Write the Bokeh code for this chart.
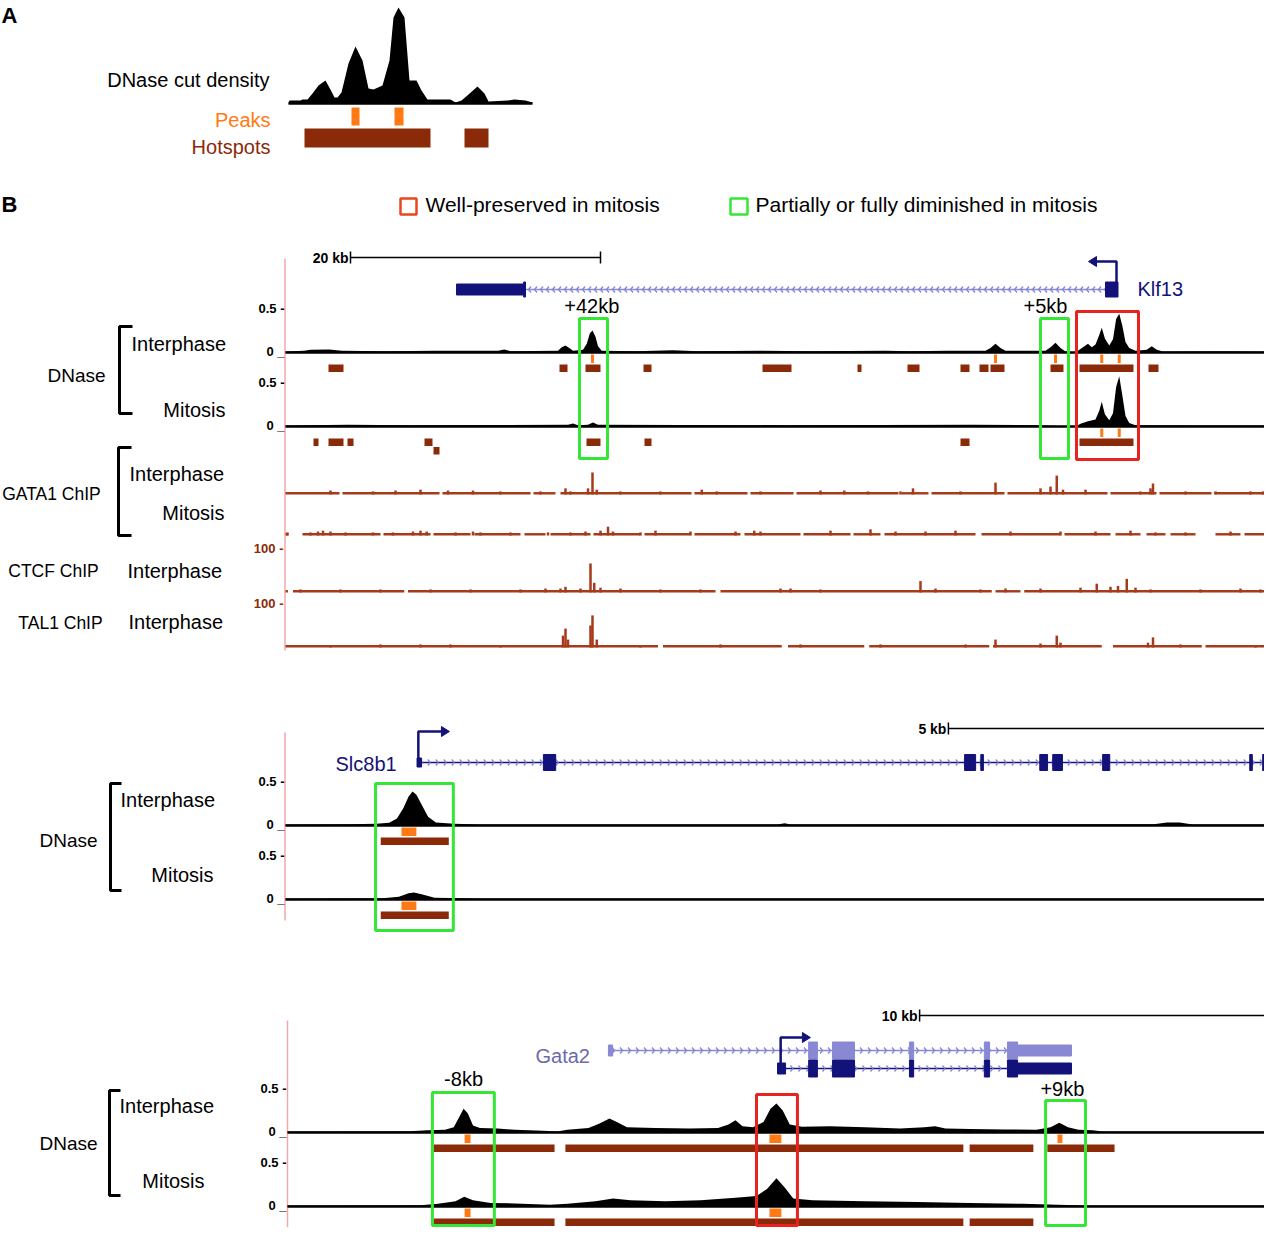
import numpy as np
from bokeh.plotting import figure
from bokeh.models import Range1d
from bokeh.embed import file_html
from bokeh.resources import INLINE
from bokeh.core.properties import value

# ======================= DATA =======================
# Panel A (schematic): (position, signal) in arbitrary units
a_density = [(0, 1), (1, 3), (12, 3), (14, 4), (19, 4), (24, 10), (30, 18), (37, 23), (43, 12), (46, 6),
             (49, 6), (53, 11), (60, 40), (67, 57), (74, 43), (80, 15), (85, 14), (94, 18), (101, 43),
             (105, 86), (110, 96), (116, 86), (121, 23), (128, 23), (133, 13), (139, 4), (162, 4),
             (167, 1), (173, 3), (180, 9), (189, 17), (196, 10), (200, 2), (219, 3), (226, 4), (237, 3), (244, 1)]
a_peaks = [(63, 71), (106, 115)]
a_hotspots = [(16, 142), (176, 200)]

# ---- Klf13 locus (kb from left edge of window) ----
klf_span = 79.4
klf_int_dnase = [(0, 0.01), (1.5, 0.02), (2.0, 0.03), (3.5, 0.035), (4.5, 0.02), (8, 0.015), (12, 0.02),
                 (17, 0.02), (17.5, 0.035), (18, 0.015), (21.8, 0.02), (22.1, 0.06), (22.4, 0.08), (22.7, 0.05),
                 (23.0, 0.02), (23.8, 0.03), (24.1, 0.10), (24.35, 0.22), (24.56, 0.25), (24.8, 0.18),
                 (25.0, 0.07), (25.3, 0.02), (28, 0.015), (31, 0.025), (33, 0.015), (38, 0.02), (42, 0.015),
                 (48, 0.02), (50, 0.015), (53, 0.02), (56.0, 0.02), (56.4, 0.05), (56.8, 0.10), (57.2, 0.05),
                 (57.6, 0.02), (60.8, 0.02), (61.2, 0.06), (61.6, 0.11), (62.0, 0.05), (62.4, 0.01),
                 (63.2, 0.0), (63.6, 0.04), (64.0, 0.08), (64.2, 0.10), (64.5, 0.06), (64.8, 0.09),
                 (65.1, 0.20), (65.3, 0.28), (65.55, 0.16), (65.9, 0.08), (66.2, 0.15), (66.45, 0.38),
                 (66.7, 0.44), (66.95, 0.30), (67.2, 0.12), (67.5, 0.05), (68.0, 0.02), (68.9, 0.03),
                 (69.3, 0.07), (69.7, 0.03), (70.2, 0.01), (75, 0.015), (79.4, 0.01)]
klf_mit_dnase = [(0, 0.01), (5, 0.02), (10, 0.015), (22.6, 0.02), (23.0, 0.035), (23.4, 0.015), (24.2, 0.02),
                 (24.6, 0.045), (25.0, 0.02), (40, 0.015), (55, 0.02), (60, 0.015), (63.2, 0.0), (63.6, 0.03),
                 (64.2, 0.06), (64.8, 0.08), (65.1, 0.18), (65.3, 0.28), (65.55, 0.14), (65.9, 0.07),
                 (66.2, 0.15), (66.45, 0.45), (66.7, 0.57), (66.95, 0.35), (67.2, 0.12), (67.5, 0.04),
                 (68, 0.015), (79.4, 0.01)]
klf_int_peaks = [(24.44, 24.68), (56.68, 56.92), (61.48, 61.72), (65.18, 65.42), (66.58, 66.82)]
klf_mit_peaks = [(65.18, 65.42), (66.58, 66.82)]
klf_int_hot = [(3.44, 4.64), (21.92, 22.56), (24.0, 25.2), (28.64, 29.28), (38.16, 40.48), (45.76, 46.08),
               (49.76, 50.72), (54.0, 54.72), (55.52, 56.24), (56.4, 57.52), (61.2, 62.24), (63.52, 67.84),
               (69.04, 69.84)]
klf_mit_hot = [(2.24, 2.64), (3.44, 4.64), (4.96, 5.44), (11.12, 11.76), (24.08, 25.2), (28.72, 29.28),
               (54.0, 54.72), (63.52, 67.84)]
klf_mit_hot_row2 = [(11.84, 12.32)]

g1_int_cov = [(0, 4.32), (4.56, 12.32), (12.56, 19.6), (19.84, 21.6), (22.0, 32.48), (32.72, 36.96),
              (37.2, 40.64), (40.88, 49.04), (49.28, 51.44), (51.68, 57.52), (57.76, 65.76), (66.0, 69.68),
              (69.92, 74.08), (74.32, 79.4)]
g1_int_spikes = [(3.6, 9), (7.0, 7), (8.8, 9), (10.8, 11), (13.0, 9), (15.0, 9), (17.2, 7), (20.4, 7), (22.4, 14),
                 (22.8, 7), (24.2, 14), (24.56, 50), (24.9, 11), (26.8, 7), (30.0, 7), (33.3, 11), (34.5, 7),
                 (38.0, 7), (42.8, 9), (44.7, 9), (46.6, 7), (49.2, 7), (50.2, 14), (54.0, 7), (56.8, 27),
                 (60.4, 14), (61.2, 18), (61.7, 43), (62.2, 11), (64.0, 11), (68.4, 7), (69.2, 14), (69.4, 25),
                 (72.0, 7), (74.4, 7), (77.2, 7), (78.2, 7)]
g1_mit_cov = [(0, 0.24), (1.36, 7.6), (7.84, 11.6), (11.84, 14.8), (15.12, 18.8), (19.12, 20.8), (21.2, 24.4),
              (24.64, 28.4), (28.72, 32.4), (32.72, 36.4), (36.72, 41.2), (41.44, 45.2), (45.44, 47.6),
              (47.92, 55.2), (55.68, 62.0), (62.32, 66.0), (66.4, 68.4), (68.88, 70.4), (70.8, 72.8),
              (74.4, 76.4), (76.72, 79.4)]
g1_mit_spikes = [(0.15, 7), (2.0, 7), (2.6, 9), (3.0, 11), (3.6, 9), (4.8, 7), (7.0, 7), (8.6, 7), (10.2, 9),
                 (10.8, 11), (11.3, 9), (13.6, 7), (15.0, 9), (15.6, 7), (18.0, 7), (21.0, 7), (22.8, 7),
                 (24.0, 9), (25.2, 11), (25.8, 20), (26.2, 9), (28.4, 7), (29.6, 11), (32.4, 9), (36.0, 9),
                 (37.5, 11), (38.0, 9), (43.6, 11), (46.8, 14), (48.8, 9), (51.2, 9), (53.6, 11), (58.0, 9),
                 (62.0, 9), (64.8, 9), (67.6, 11), (69.6, 7), (72.0, 7), (75.6, 9), (78.4, 9)]
ctcf_cov = [(0, 0.2), (0.6, 9.5), (9.8, 34.4), (34.8, 56.5), (56.8, 58.8), (59.1, 79.4)]
ctcf_spikes = [(1.2, 7), (4.4, 7), (7.6, 7), (11.6, 7), (14.8, 7), (18.8, 7), (20.8, 9), (22.0, 9), (22.4, 13),
               (23.6, 9), (24.4, 66), (24.7, 22), (25.2, 11), (26.8, 9), (30.0, 7), (33.2, 7), (39.6, 9),
               (40.4, 9), (42.8, 7), (50.8, 26), (52.0, 9), (55.6, 7), (57.6, 9), (60.4, 9), (63.6, 11),
               (64.9, 20), (66.0, 13), (66.6, 15), (67.3, 31), (68.0, 11), (69.2, 7), (73.2, 7), (76.4, 9), (78.0, 7)]
tal1_cov = [(0, 29.8), (30.2, 39.7), (40.2, 46.3), (46.7, 56.3), (56.6, 65.3), (66.2, 73.3), (73.6, 79.4)]
tal1_spikes = [(3.6, 5), (7.6, 7), (10.8, 7), (13.2, 7), (17.2, 5), (22.2, 27), (22.4, 43), (22.6, 18), (24.4, 50),
               (24.56, 73), (24.9, 18), (28.4, 5), (34.8, 7), (41.2, 7), (47.6, 7), (54.4, 7), (56.8, 18),
               (60.4, 9), (61.7, 27), (62.0, 11), (69.0, 11), (69.4, 23), (71.6, 7), (77.6, 5)]

klf_exons = [(13.68, 19.05, "utr"), (19.05, 19.2, "cds"), (65.6, 66.6, "cds")]
klf_intron = (19.2, 65.6)
klf_tss, klf_tss_head = 66.48, 64.24
klf_scalebar = (5.2, 25.2, "20 kb")
klf_green = [(23.52, 25.76), (60.4, 62.64)]
klf_red = [(63.28, 68.24)]
klf_box_labels = [(24.5, "+42kb"), (60.8, "+5kb")]

# ---- Slc8b1 locus ----
slc_span = 15.31
slc_int_dnase = [(0, 0.01), (1.0, 0.015), (1.4, 0.02), (1.6, 0.03), (1.72, 0.08), (1.82, 0.2), (1.9, 0.33),
                 (1.96, 0.386), (2.02, 0.35), (2.1, 0.24), (2.2, 0.1), (2.32, 0.035), (2.6, 0.02), (3.0, 0.01),
                 (7.6, 0.01), (7.7, 0.025), (7.8, 0.01), (13.4, 0.015), (13.6, 0.035), (13.8, 0.035),
                 (14.0, 0.01), (15.31, 0.01)]
slc_mit_dnase = [(0, 0.01), (1.5, 0.015), (1.75, 0.03), (1.9, 0.07), (1.98, 0.08), (2.1, 0.06), (2.3, 0.02),
                 (3.0, 0.01), (15.31, 0.01)]
slc_peaks = [(1.79, 2.02)]
slc_hot = [(1.47, 2.52)]
slc_exons = [(2.03, 2.1, "utr"), (3.98, 4.17, "cds"), (10.48, 10.65, "cds"), (10.73, 10.77, "cds"),
             (11.64, 11.76, "cds"), (11.84, 11.99, "cds"), (12.61, 12.72, "cds"), (14.88, 14.92, "cds"),
             (15.08, 15.22, "cds")]
slc_intron = (2.05, 15.31)
slc_tss, slc_tss_head = 2.05, 2.53
slc_scalebar = (10.23, 15.23, "5 kb")
slc_green = [(1.39, 2.59)]

# ---- Gata2 locus ----
gata_span = 28.3
gata_int_dnase = [(0, 0.01), (3.5, 0.015), (4.0, 0.025), (4.5, 0.03), (4.75, 0.06), (4.9, 0.17), (5.03, 0.27),
                  (5.15, 0.22), (5.3, 0.08), (5.5, 0.05), (6.0, 0.045), (6.5, 0.03), (7.3, 0.02), (7.7, 0.01),
                  (8.0, 0.03), (8.6, 0.05), (8.9, 0.1), (9.2, 0.16), (9.45, 0.11), (9.7, 0.06), (10.5, 0.05),
                  (11.5, 0.045), (12.3, 0.05), (12.6, 0.09), (12.8, 0.14), (13.0, 0.07), (13.3, 0.06),
                  (13.6, 0.12), (13.8, 0.27), (13.97, 0.33), (14.15, 0.25), (14.35, 0.09), (14.7, 0.065),
                  (15.5, 0.07), (16.5, 0.06), (17.5, 0.045), (18.2, 0.06), (18.5, 0.07), (18.8, 0.045),
                  (19.5, 0.04), (20.5, 0.035), (21.4, 0.03), (21.8, 0.06), (22.05, 0.11), (22.3, 0.06),
                  (22.6, 0.03), (23.0, 0.025), (23.3, 0.01), (28.3, 0.01)]
gata_mit_dnase = [(0, 0.01), (3.8, 0.015), (4.3, 0.03), (4.8, 0.06), (5.05, 0.11), (5.3, 0.07), (5.8, 0.04),
                  (6.5, 0.035), (7.5, 0.02), (8.0, 0.03), (8.8, 0.06), (9.3, 0.09), (9.8, 0.07), (10.8, 0.06),
                  (11.8, 0.07), (12.8, 0.1), (13.4, 0.12), (13.7, 0.2), (13.97, 0.32), (14.2, 0.22),
                  (14.45, 0.09), (15.0, 0.07), (16.5, 0.06), (18.0, 0.05), (19.5, 0.04), (21.0, 0.03),
                  (22.0, 0.02), (22.8, 0.01), (28.3, 0.01)]
gata_int_peaks = [(5.06, 5.23), (13.77, 14.11), (22.0, 22.14)]
gata_mit_peaks = [(5.06, 5.23), (13.77, 14.11)]
gata_int_hot = [(4.17, 7.63), (7.94, 19.31), (19.49, 21.31), (21.71, 23.63)]
gata_mit_hot = [(4.17, 7.63), (7.94, 19.31), (19.49, 21.31)]
gata_exons = [(14.89, 15.14, "cds"), (15.57, 16.2, "cds"), (17.77, 17.89, "cds"), (19.91, 20.06, "cds"),
              (20.57, 20.86, "cds"), (20.86, 22.4, "utr")]
gata_alt_first_exon = [(9.17, 9.29, "utr")]
gata_main_first_exon = [(14.0, 14.23, "utr")]
gata_alt_intron = (9.23, 20.57)
gata_main_intron = (14.1, 20.57)
gata_tss, gata_tss_head = 14.09, 14.94
gata_scalebar = (18.06, 28.06, "10 kb")
gata_green = [(4.14, 5.91), (21.66, 22.8)]
gata_red = [(13.4, 14.57)]
gata_box_labels = [(5.03, "-8kb"), (22.14, "+9kb")]

# ======================= STYLE / LAYOUT =======================
FONT = "Liberation Sans"
BLACK = "#000000"; ORANGE = "#ff7a14"; BROWN = "#8a2a08"; CHIP = "#a63a1a"
GREEN = "#36e636"; RED = "#e8231f"; LEG_RED = "#e8461f"
NAVY = "#12127a"; LILAC = "#8888d4"; PINK = "#f3a7ab"; GATA2_LBL = "#6b6bab"

L, R, T, B = 0, 1264, 0, 1227
G = -5  # vertical nudge of the bottom panel so it fits the page
p = figure(width=1264, height=1227, x_range=Range1d(L, R), y_range=Range1d(B, T),
           output_backend="svg", toolbar_location=None, x_axis_type=None, y_axis_type=None,
           min_border=0, background_fill_color="white", border_fill_color="white",
           outline_line_color=None)

xr, yr = {}, {}
def add_x(name, px0, ppu):
    xr[name] = Range1d((L - px0) / ppu, (R - px0) / ppu)
def add_y(name, base, ppu):
    yr[name] = Range1d((base - B) / ppu, (base - T) / ppu)

PX_KLF, PX_SLC, PX_GATA = 12.5, 64.8, 35.0
add_x("a", 288, 1.0); add_y("a", 103, 1.0)
add_x("klf", 285, PX_KLF); add_x("slc", 285, PX_SLC); add_x("gata", 287, PX_GATA)
DN = 88.0  # px per DNase unit
for nm, base in [("klf_i", 352), ("klf_m", 426), ("slc_i", 825), ("slc_m", 899),
                 ("gata_i", 1137 + G), ("gata_m", 1211 + G)]:
    add_y(nm, base, DN)
CH = 0.44
for nm, base in [("g1_i", 494), ("g1_m", 535), ("ctcf", 592), ("tal1", 647)]:
    add_y(nm, base, CH)
p.extra_x_ranges = xr
p.extra_y_ranges = yr


def txt(x, y, s, size=20, color=BLACK, align="left", baseline="middle", style="normal",
        xn="default", yn="default", x_offset=0):
    p.text(x=[x], y=[y], text=[s], text_font=value(FONT), text_font_size=f"{size}px",
           text_color=color, text_align=align, text_baseline=baseline, text_font_style=style,
           x_offset=x_offset, x_range_name=xn, y_range_name=yn)


def quads(xn, yn, ivs, top, bottom, **kw):
    n = len(ivs)
    p.quad(left=[a for a, b in ivs], right=[b for a, b in ivs], top=[top] * n, bottom=[bottom] * n,
           x_range_name=xn, y_range_name=yn, **kw)


def area(xn, yn, pts, span):
    xs = [q[0] for q in pts]; ys = [q[1] for q in pts]
    p.varea(x=xs, y1=[0] * len(xs), y2=ys, fill_color=BLACK, x_range_name=xn, y_range_name=yn)
    p.line([xs[0], span], [0, 0], line_color=BLACK, line_width=2.5, x_range_name=xn, y_range_name=yn)


def dnase(xn, yn, pts, span, peaks, hots, hots2=None):
    area(xn, yn, pts, span)
    if peaks:
        quads(xn, yn, peaks, -2 / DN, -10.5 / DN, fill_color=ORANGE, line_color=None)
    if hots:
        quads(xn, yn, hots, -12 / DN, -19.5 / DN, fill_color=BROWN, line_color=None)
    if hots2:
        quads(xn, yn, hots2, -20.5 / DN, -28 / DN, fill_color=BROWN, line_color=None)


def chip(xn, yn, cov, spikes):
    quads(xn, yn, cov, 5.5, 0, fill_color=CHIP, line_color=None)
    p.vbar(x=[s[0] for s in spikes], top=[s[1] for s in spikes], bottom=0, width=0.2,
           fill_color=CHIP, line_color=None, x_range_name=xn, y_range_name=yn)


def ticks(yn, xr_px=284):
    txt(xr_px, 0.5, "0.5 -", 13, style="bold", align="right", yn=yn)
    txt(xr_px, 1.2 / DN, "0 _", 13, style="bold", align="right", baseline="alphabetic", yn=yn)


def chevrons(xn, x0, x1, y, step_px, ppu, direction, color):
    cs = np.arange(x0 + step_px / ppu / 2, x1, step_px / ppu)
    arm = direction * 2.5 / ppu
    n = len(cs)
    for dy in (-3, 3):
        p.segment(x0=cs + arm, y0=[y + dy] * n, x1=cs, y1=[y] * n, line_color=color,
                  line_width=1.3, x_range_name=xn)


def exons(xn, ex, y, color, hts):
    for s, e, k in ex:
        h = hts[k]
        p.quad(left=[s], right=[e], top=[y - h / 2], bottom=[y + h / 2], fill_color=color,
               line_color=color, x_range_name=xn)


def tss_arrow(xn, ppu, x, y0, y1, head, color):
    d = 1 if head > x else -1
    back = head - d * 8 / ppu
    p.line([x, x, back], [y0, y1, y1], line_color=color, line_width=2.5, x_range_name=xn)
    p.patch([head, back, back], [y1, y1 - 5, y1 + 5], fill_color=color, line_color=color, x_range_name=xn)


def scalebar(xn, sb, y):
    s, e, lab = sb
    p.line([s, e], [y, y], line_color=BLACK, line_width=1.5, x_range_name=xn)
    p.segment(x0=[s, e], y0=[y - 6] * 2, x1=[s, e], y1=[y + 6] * 2, line_color=BLACK, line_width=1.5,
              x_range_name=xn)
    txt(s, y, lab, 14, style="bold", align="right", xn=xn, x_offset=-2)


def bracket(x_in, x_out, y0, y1):
    p.line([x_in, x_out, x_out, x_in], [y0, y0, y1, y1], line_color=BLACK, line_width=3)


def boxes(xn, ivs, top, bottom, color):
    quads(xn, "default", ivs, top, bottom, fill_color=None, line_color=color, line_width=3)


# ======================= PANEL A =======================
txt(1, 15, "A", 22, style="bold")
area("a", "a", a_density, 244)
quads("a", "a", a_peaks, -4, -22, fill_color=ORANGE, line_color=None)
quads("a", "a", a_hotspots, -25, -44, fill_color=BROWN, line_color=None)
txt(269, 79, "DNase cut density", 20, align="right")
txt(270, 119, "Peaks", 20, ORANGE, align="right")
txt(270, 146, "Hotspots", 20, BROWN, align="right")

# ======================= PANEL B legend =======================
txt(1, 204, "B", 22, style="bold")
p.quad(left=[400], right=[416], top=[198], bottom=[214], fill_color=None, line_color=LEG_RED, line_width=2.5)
txt(425, 204, "Well-preserved in mitosis", 21)
p.quad(left=[730], right=[747], top=[198], bottom=[214], fill_color=None, line_color=GREEN, line_width=2.5)
txt(755, 204, "Partially or fully diminished in mitosis", 21)

# ======================= Klf13 =======================
p.line([284.5, 284.5], [258, 650], line_color=PINK, line_width=1.5)
scalebar("klf", klf_scalebar, 257)
p.line(list(klf_intron), [289, 289], line_color=LILAC, line_width=1.5, x_range_name="klf")
chevrons("klf", klf_intron[0], klf_intron[1], 289, 6, PX_KLF, 1, LILAC)
exons("klf", klf_exons, 289, NAVY, {"utr": 11, "cds": 15})
tss_arrow("klf", PX_KLF, klf_tss, 289, 261, klf_tss_head, NAVY)
txt(1137, 288, "Klf13", 20, NAVY)

dnase("klf", "klf_i", klf_int_dnase, klf_span, klf_int_peaks, klf_int_hot)
dnase("klf", "klf_m", klf_mit_dnase, klf_span, klf_mit_peaks, klf_mit_hot, klf_mit_hot_row2)
ticks("klf_i"); ticks("klf_m")
chip("klf", "g1_i", g1_int_cov, g1_int_spikes)
chip("klf", "g1_m", g1_mit_cov, g1_mit_spikes)
chip("klf", "ctcf", ctcf_cov, ctcf_spikes)
chip("klf", "tal1", tal1_cov, tal1_spikes)
txt(283, 100, "100 -", 13, BROWN, align="right", style="bold", yn="ctcf")
txt(283, 100, "100 -", 13, BROWN, align="right", style="bold", yn="tal1")

txt(76, 375, "DNase", 19, align="center")
bracket(132, 119, 326, 413)
txt(131, 343, "Interphase", 20)
txt(225, 409, "Mitosis", 20, align="right")
txt(51, 493, "GATA1 ChIP", 17.5, align="center")
bracket(131, 118, 447, 535)
txt(129, 473, "Interphase", 20)
txt(224, 512, "Mitosis", 20, align="right")
txt(53, 570, "CTCF ChIP", 17.5, align="center")
txt(127, 570, "Interphase", 20)
txt(60, 622, "TAL1 ChIP", 17.5, align="center")
txt(128, 621, "Interphase", 20)

boxes("klf", klf_green, 318, 458, GREEN)
boxes("klf", klf_red, 311, 459, RED)
for xk, lab in klf_box_labels:
    txt(xk, 305, lab, 20, align="center", xn="klf")

# ======================= Slc8b1 =======================
p.line([284.5, 284.5], [732, 920], line_color=PINK, line_width=1.5)
scalebar("slc", slc_scalebar, 728)
p.line(list(slc_intron), [762, 762], line_color=NAVY, line_width=1.5, x_range_name="slc")
chevrons("slc", slc_intron[0], slc_intron[1], 762, 8, PX_SLC, -1, LILAC)
exons("slc", slc_exons, 762, NAVY, {"utr": 9, "cds": 16})
tss_arrow("slc", PX_SLC, slc_tss, 762, 731, slc_tss_head, NAVY)
txt(335, 763, "Slc8b1", 20, NAVY)
dnase("slc", "slc_i", slc_int_dnase, slc_span, slc_peaks, slc_hot)
dnase("slc", "slc_m", slc_mit_dnase, slc_span, slc_peaks, slc_hot)
ticks("slc_i"); ticks("slc_m")
txt(68, 840, "DNase", 19, align="center")
bracket(121, 110, 783, 890)
txt(120, 799, "Interphase", 20)
txt(213, 874, "Mitosis", 20, align="right")
boxes("slc", slc_green, 783, 930, GREEN)

# ======================= Gata2 =======================
p.line([287, 287], [1025 + G, 1227], line_color=PINK, line_width=1.5)
scalebar("gata", gata_scalebar, 1020 + G)
p.line(list(gata_alt_intron), [1055 + G] * 2, line_color=LILAC, line_width=1.5, x_range_name="gata")
chevrons("gata", gata_alt_intron[0], gata_alt_intron[1], 1055 + G, 8, PX_GATA, -1, LILAC)
exons("gata", gata_alt_first_exon + gata_exons, 1055 + G, LILAC, {"utr": 11, "cds": 17})
p.line(list(gata_main_intron), [1073 + G] * 2, line_color=NAVY, line_width=1.5, x_range_name="gata")
chevrons("gata", gata_main_intron[0], gata_main_intron[1], 1073 + G, 8, PX_GATA, -1, LILAC)
exons("gata", gata_main_first_exon + gata_exons, 1073 + G, NAVY, {"utr": 11, "cds": 17})
tss_arrow("gata", PX_GATA, gata_tss, 1073 + G, 1042 + G, gata_tss_head, NAVY)
txt(535, 1060 + G, "Gata2", 20, GATA2_LBL)
dnase("gata", "gata_i", gata_int_dnase, gata_span, gata_int_peaks, gata_int_hot)
dnase("gata", "gata_m", gata_mit_dnase, gata_span, gata_mit_peaks, gata_mit_hot)
ticks("gata_i", 286); ticks("gata_m", 286)
txt(68, 1148 + G, "DNase", 19, align="center")
bracket(120, 109, 1095 + G, 1200 + G)
txt(119, 1110 + G, "Interphase", 20)
txt(204, 1185 + G, "Mitosis", 20, align="right")
boxes("gata", gata_green[:1], 1097 + G, 1225, GREEN)
boxes("gata", gata_green[1:], 1105 + G, 1225, GREEN)
boxes("gata", gata_red, 1099 + G, 1225, RED)
txt(gata_box_labels[0][0], 1083 + G, gata_box_labels[0][1], 20, align="center", xn="gata")
txt(gata_box_labels[1][0], 1093 + G, gata_box_labels[1][1], 20, align="center", xn="gata")

open("out.html", "w").write(file_html(p, INLINE))
